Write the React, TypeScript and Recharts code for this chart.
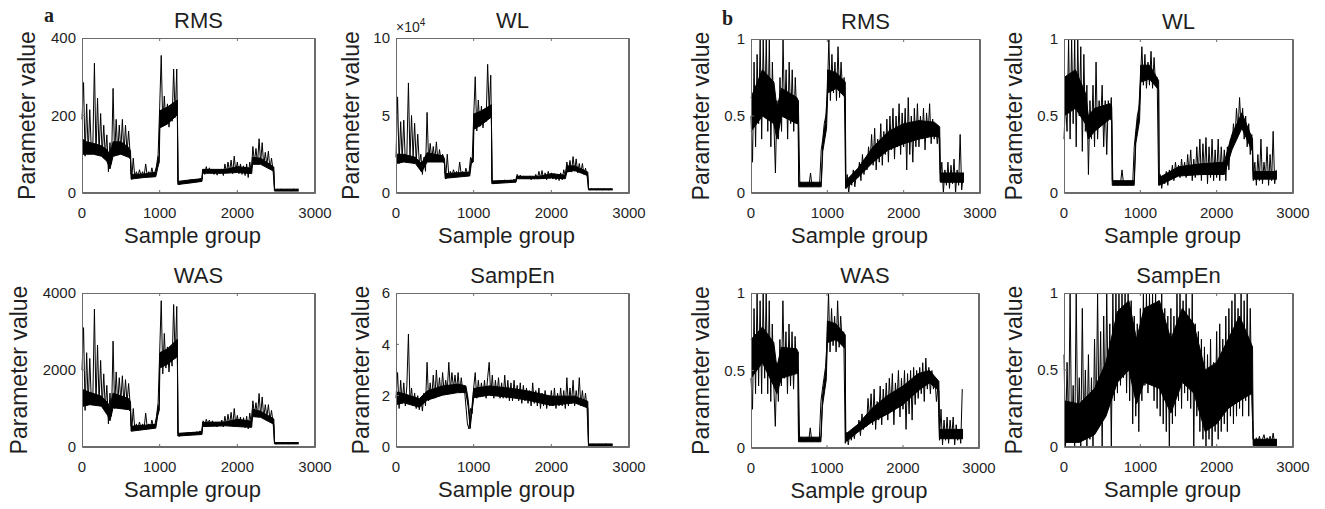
import React from 'react';
import { ComposedChart, Line, Area, XAxis, YAxis, Label } from 'recharts';

// sample group index of each stored point (one reading every 20 groups)
const STEP = 20;
const sampleGroup: number[] = Array.from({ length: 140 }, (_, i) => i * STEP);
const xTicks = [0, 1000, 2000, 3000];

// ---- panel a: raw feature values ----
const aRMS = [
  190, 285, 95, 230, 105, 215, 110, 125, 335, 100,
  245, 105, 205, 100, 175, 95, 150, 55, 130, 75,
  270, 95, 190, 100, 175, 110, 190, 100, 175, 105,
  160, 100, 35, 90, 40, 55, 42, 60, 45, 55,
  43, 75, 45, 55, 45, 65, 45, 55, 70, 100,
  220, 355, 175, 250, 180, 230, 170, 225, 185, 320,
  195, 320, 28, 22, 30, 24, 32, 25, 33, 26,
  35, 27, 34, 28, 36, 30, 38, 32, 60, 48,
  68, 52, 65, 50, 62, 48, 60, 46, 58, 50,
  62, 45, 75, 52, 80, 55, 85, 50, 95, 55,
  80, 50, 75, 48, 70, 45, 75, 40, 80, 55,
  120, 80, 115, 75, 140, 78, 130, 70, 105, 72,
  108, 62, 90, 58, 8, 6, 9, 6, 10, 7,
  9, 6, 10, 7, 9, 6, 10, 7, 9, 8,
];

// WL in units of 10^4
const aWL = [
  2.3, 6.2, 1.9, 4.6, 2.2, 4.7, 2.0, 2.5, 7.1, 2.2,
  5.0, 2.3, 4.5, 2.0, 3.8, 1.9, 2.5, 1.2, 2.3, 1.4,
  5.2, 2.0, 3.2, 2.2, 3.0, 2.1, 3.3, 2.0, 2.8, 2.1,
  2.5, 2.2, 0.9, 2.5, 1.1, 1.4, 1.1, 1.5, 1.2, 1.4,
  1.1, 2.0, 1.2, 1.4, 1.1, 1.6, 1.2, 1.3, 2.3, 2.0,
  4.9, 7.5, 4.0, 6.0, 4.3, 5.6, 4.2, 5.4, 4.6, 8.3,
  5.3, 7.6, 0.7, 0.6, 0.75, 0.65, 0.8, 0.65, 0.8, 0.7,
  0.85, 0.7, 0.8, 0.7, 0.85, 0.75, 0.9, 0.7, 1.2, 0.95,
  1.15, 0.95, 1.1, 0.9, 1.05, 0.9, 1.1, 0.85, 1.0, 0.9,
  1.2, 0.9, 1.4, 0.95, 1.45, 0.9, 1.3, 0.85, 1.4, 0.95,
  1.3, 0.9, 1.25, 0.85, 1.2, 0.8, 1.3, 0.85, 1.5, 1.1,
  2.0, 1.4, 2.1, 1.35, 2.35, 1.4, 2.2, 1.3, 1.9, 1.3,
  1.9, 1.2, 1.6, 1.1, 0.25, 0.2, 0.27, 0.22, 0.26, 0.2,
  0.27, 0.22, 0.26, 0.2, 0.27, 0.22, 0.25, 0.2, 0.27, 0.22,
];

const aWAS = [
  2000, 3100, 950, 2450, 1100, 2300, 1200, 1300, 3580, 1100,
  2650, 1150, 2250, 1050, 1900, 1000, 1600, 600, 1400, 800,
  2750, 1000, 1950, 1100, 1800, 1200, 1850, 1100, 1750, 1150,
  1650, 1100, 420, 1000, 450, 600, 480, 650, 500, 600,
  490, 880, 500, 600, 500, 700, 520, 600, 800, 1150,
  2450, 3800, 1900, 2950, 2050, 2600, 1950, 2500, 2100, 3700,
  2300, 3650, 300, 280, 330, 300, 350, 310, 370, 320,
  380, 330, 390, 340, 400, 350, 420, 360, 680, 560,
  720, 600, 700, 560, 680, 540, 650, 520, 640, 550,
  700, 520, 800, 560, 850, 580, 900, 540, 1000, 580,
  820, 540, 780, 520, 760, 500, 800, 470, 880, 600,
  1200, 850, 1150, 820, 1390, 800, 1300, 760, 1100, 780,
  1100, 700, 950, 640, 100, 80, 110, 90, 105, 85,
  110, 90, 115, 85, 105, 95, 110, 90, 100, 95,
];

const aSampEn = [
  1.9, 2.9, 1.5, 2.6, 1.7, 2.5, 1.6, 2.4, 4.4, 1.7,
  2.3, 1.6, 2.1, 1.5, 2.0, 1.45, 1.9, 1.4, 2.1, 1.6,
  3.3, 1.8, 2.5, 1.9, 2.8, 1.9, 3.0, 2.0, 2.7, 2.0,
  2.9, 2.1, 2.6, 2.2, 3.3, 2.2, 2.9, 2.3, 2.8, 2.2,
  2.9, 2.1, 2.7, 2.2, 2.3, 1.6, 0.9, 0.7, 1.5, 1.3,
  2.3, 2.9, 1.9, 2.6, 2.0, 2.5, 2.0, 2.6, 1.9, 2.7,
  3.3, 2.0, 2.8, 1.9, 2.6, 2.0, 2.7, 1.9, 2.5, 1.9,
  2.8, 1.9, 2.6, 1.8, 2.5, 1.8, 2.6, 1.9, 2.4, 1.8,
  2.5, 1.7, 2.4, 1.8, 2.3, 1.7, 2.2, 1.6, 2.5, 1.7,
  2.2, 1.6, 2.3, 1.5, 2.1, 1.6, 2.2, 1.5, 2.0, 1.6,
  2.2, 1.6, 2.3, 1.5, 2.1, 1.6, 2.3, 1.6, 2.2, 1.5,
  2.7, 1.6, 2.3, 1.7, 2.6, 1.6, 2.2, 1.7, 2.7, 1.6,
  2.2, 1.6, 2.1, 1.5, 0.05, 0.1, 0.04, 0.12, 0.06, 0.1,
  0.05, 0.12, 0.04, 0.1, 0.06, 0.13, 0.05, 0.1, 0.07, 0.11,
];

// ---- panel b: normalised feature values ----
const bRMS = [
  0.5, 0.2, 0.85, 0.3, 0.9, 0.45, 1.0, 0.35, 1.0, 0.5,
  1.0, 0.4, 1.0, 0.3, 0.85, 0.45, 0.13, 0.6, 0.35, 0.75,
  0.4, 1.0, 0.5, 0.8, 0.35, 0.85, 0.45, 0.8, 0.4, 0.75,
  0.5, 0.6, 0.05, 0.07, 0.04, 0.06, 0.04, 0.07, 0.05, 0.13,
  0.04, 0.07, 0.05, 0.06, 0.04, 0.07, 0.28, 0.35, 0.45, 0.5,
  0.65, 1.0, 0.6, 0.9, 0.65, 0.85, 0.6, 0.95, 0.62, 0.85,
  0.65, 0.75, 0.03, 0.12, 0.0, 0.1, 0.05, 0.15, 0.04, 0.12,
  0.1, 0.2, 0.08, 0.25, 0.12, 0.22, 0.15, 0.3, 0.2, 0.38,
  0.18, 0.42, 0.15, 0.35, 0.2, 0.45, 0.18, 0.4, 0.25, 0.48,
  0.2, 0.5, 0.28, 0.55, 0.22, 0.5, 0.3, 0.58, 0.25, 0.52,
  0.3, 0.55, 0.15, 0.62, 0.25, 0.5, 0.2, 0.55, 0.3, 0.58,
  0.3, 0.5, 0.35, 0.55, 0.28, 0.52, 0.38, 0.58, 0.32, 0.48,
  0.35, 0.45, 0.32, 0.42, 0.08, 0.2, 0.0, 0.15, 0.05, 0.2,
  0.03, 0.18, 0.06, 0.22, 0.0, 0.15, 0.05, 0.38, 0.02, 0.12,
];

const bWL = [
  0.35, 0.6, 0.4, 1.0, 0.35, 1.0, 0.45, 1.0, 0.3, 1.0,
  0.5, 0.95, 0.27, 0.9, 0.4, 0.7, 0.12, 0.6, 0.35, 0.7,
  0.3, 0.85, 0.35, 0.6, 0.45, 0.7, 0.3, 0.6, 0.25, 0.6,
  0.5, 0.62, 0.07, 0.06, 0.08, 0.05, 0.07, 0.06, 0.15, 0.06,
  0.07, 0.05, 0.08, 0.06, 0.07, 0.06, 0.3, 0.4, 0.5, 0.55,
  0.72, 0.95, 0.7, 0.9, 0.68, 0.85, 0.7, 0.92, 0.68, 0.88,
  0.7, 0.75, 0.05, 0.12, 0.03, 0.1, 0.06, 0.14, 0.05, 0.15,
  0.1, 0.18, 0.08, 0.2, 0.12, 0.18, 0.1, 0.22, 0.12, 0.2,
  0.1, 0.25, 0.12, 0.28, 0.08, 0.22, 0.1, 0.3, 0.12, 0.35,
  0.08, 0.32, 0.12, 0.36, 0.06, 0.3, 0.1, 0.35, 0.08, 0.28,
  0.1, 0.35, 0.08, 0.3, 0.12, 0.28, 0.08, 0.3, 0.15, 0.35,
  0.3, 0.45, 0.35, 0.55, 0.4, 0.62, 0.42, 0.55, 0.35, 0.5,
  0.3, 0.45, 0.25, 0.38, 0.08, 0.2, 0.05, 0.25, 0.08, 0.35,
  0.06, 0.2, 0.1, 0.3, 0.05, 0.25, 0.08, 0.4, 0.06, 0.15,
];

const bWAS = [
  0.45, 0.25, 0.9, 0.35, 1.0, 0.4, 0.95, 0.35, 1.0, 0.45,
  1.0, 0.35, 0.95, 0.3, 0.8, 0.4, 0.14, 0.55, 0.3, 0.7,
  0.4, 0.95, 0.45, 0.75, 0.35, 0.8, 0.4, 0.75, 0.38, 0.72,
  0.5, 0.62, 0.05, 0.07, 0.04, 0.06, 0.04, 0.07, 0.05, 0.13,
  0.04, 0.07, 0.05, 0.06, 0.04, 0.07, 0.3, 0.38, 0.45, 0.52,
  0.68, 1.0, 0.62, 0.9, 0.66, 0.85, 0.62, 0.95, 0.65, 0.85,
  0.68, 0.75, 0.03, 0.1, 0.02, 0.1, 0.05, 0.12, 0.06, 0.14,
  0.1, 0.18, 0.08, 0.22, 0.12, 0.2, 0.14, 0.32, 0.18, 0.35,
  0.15, 0.38, 0.12, 0.3, 0.18, 0.4, 0.15, 0.38, 0.22, 0.42,
  0.18, 0.45, 0.25, 0.48, 0.15, 0.42, 0.28, 0.5, 0.2, 0.45,
  0.25, 0.5, 0.12, 0.48, 0.22, 0.5, 0.18, 0.52, 0.28, 0.5,
  0.32, 0.52, 0.35, 0.55, 0.3, 0.58, 0.38, 0.52, 0.35, 0.5,
  0.38, 0.45, 0.3, 0.4, 0.05, 0.25, 0.02, 0.18, 0.05, 0.2,
  0.03, 0.18, 0.06, 0.2, 0.02, 0.15, 0.05, 0.12, 0.03, 0.38,
];

const bSampEn = [
  0.6, 0.0, 0.55, 0.1, 1.0, 0.05, 0.4, 0.0, 1.0, 0.1,
  0.45, 0.0, 0.9, 0.05, 0.5, 0.0, 0.6, 0.05, 0.45, 0.0,
  0.7, 0.1, 1.0, 0.15, 0.75, 0.0, 0.85, 0.2, 1.0, 0.25,
  0.8, 0.0, 1.0, 0.3, 1.0, 0.35, 1.0, 0.4, 1.0, 0.45,
  1.0, 0.35, 1.0, 0.3, 0.95, 0.15, 0.85, 0.2, 0.8, 0.1,
  0.9, 0.3, 1.0, 0.4, 1.0, 0.35, 1.0, 0.45, 1.0, 0.3,
  1.0, 0.25, 0.95, 0.2, 1.0, 0.15, 0.9, 0.1, 0.85, 0.0,
  0.9, 0.15, 0.85, 0.2, 1.0, 0.3, 1.0, 0.25, 0.95, 0.35,
  1.0, 0.3, 0.9, 0.25, 1.0, 0.0, 0.8, 0.2, 0.75, 0.1,
  0.7, 0.05, 0.65, 0.0, 0.6, 0.05, 0.7, 0.0, 0.55, 0.1,
  0.75, 0.05, 0.8, 0.1, 0.7, 0.15, 0.85, 0.1, 0.9, 0.2,
  0.95, 0.15, 1.0, 0.2, 0.9, 0.25, 1.0, 0.2, 0.95, 0.3,
  1.0, 0.2, 0.9, 0.3, 0.05, 0.02, 0.06, 0.03, 0.07, 0.02,
  0.05, 0.08, 0.03, 0.06, 0.04, 0.07, 0.03, 0.09, 0.02, 0.05,
];

// dense core of each trace: [sample group, low, high]
const aRMSBand = [
  [0, 100, 140], [60, 100, 132], [150, 100, 128], [250, 95, 122], [320, 82, 112], [360, 62, 98],
  [400, 95, 132], [500, 100, 132], [600, 92, 118], [625, 88, 108], [632, 36, 48], [800, 40, 49],
  [950, 42, 54], [975, 65, 82], [995, 80, 98], [1002, 168, 212], [1100, 178, 222], [1228, 202, 240],
  [1234, 22, 30], [1400, 26, 34], [1545, 30, 37], [1552, 51, 61], [1850, 51, 61], [2000, 53, 68],
  [2185, 50, 64], [2195, 74, 92], [2300, 74, 90], [2470, 56, 67], [2478, 5, 10], [2790, 5, 10],
];
const aWLBand = [
  [0, 1.9, 2.5], [100, 2.0, 2.5], [250, 1.9, 2.3], [330, 1.35, 1.9], [400, 2.0, 2.6], [600, 2.0, 2.4],
  [625, 1.9, 2.2], [632, 0.95, 1.25], [950, 1.1, 1.35], [970, 1.9, 2.2], [995, 2.0, 2.3], [1002, 4.1, 5.1],
  [1100, 4.4, 5.3], [1228, 4.9, 5.7], [1234, 0.6, 0.78], [1545, 0.7, 0.83], [1552, 0.92, 1.08],
  [1850, 0.92, 1.08], [2000, 0.97, 1.25], [2180, 0.92, 1.15], [2200, 1.35, 1.75], [2300, 1.45, 1.75],
  [2470, 1.12, 1.35], [2478, 0.2, 0.27], [2790, 0.2, 0.27],
];
const aWASBand = [
  [0, 1050, 1500], [100, 1100, 1420], [250, 1060, 1320], [330, 820, 1150], [360, 680, 1020],
  [400, 1020, 1400], [600, 970, 1260], [625, 920, 1170], [632, 410, 540], [950, 490, 590],
  [975, 810, 980], [995, 960, 1130], [1002, 2050, 2450], [1100, 2150, 2550], [1228, 2350, 2800],
  [1234, 285, 355], [1545, 325, 395], [1552, 530, 640], [1850, 550, 650], [2000, 530, 720],
  [2185, 510, 670], [2195, 790, 980], [2300, 770, 930], [2470, 590, 730], [2478, 80, 115], [2790, 80, 115],
];
const aSampEnBand = [
  [0, 1.65, 2.15], [100, 1.72, 2.08], [300, 1.55, 1.88], [400, 1.82, 2.18], [600, 2.02, 2.38],
  [800, 2.12, 2.45], [900, 2.12, 2.38], [930, 1.55, 1.85], [955, 0.72, 0.98], [975, 1.3, 1.48],
  [1000, 1.92, 2.28], [1200, 2.02, 2.38], [1500, 1.92, 2.28], [1700, 1.82, 2.18], [2000, 1.62, 1.98],
  [2300, 1.72, 1.98], [2470, 1.52, 1.78], [2478, 0.03, 0.12], [2790, 0.03, 0.12],
];
const bRMSBand = [
  [0, 0.4, 0.62], [150, 0.5, 0.8], [300, 0.45, 0.72], [340, 0.35, 0.55], [400, 0.5, 0.68],
  [600, 0.45, 0.62], [618, 0.45, 0.6], [625, 0.04, 0.07], [920, 0.04, 0.07], [940, 0.27, 0.33],
  [990, 0.42, 0.52], [1005, 0.65, 0.8], [1120, 0.68, 0.78], [1235, 0.62, 0.72], [1242, 0.03, 0.08],
  [1400, 0.1, 0.16], [1600, 0.2, 0.3], [1800, 0.28, 0.4], [2000, 0.32, 0.45], [2200, 0.35, 0.47],
  [2400, 0.37, 0.46], [2472, 0.36, 0.43], [2480, 0.07, 0.13], [2790, 0.07, 0.13],
];
const bWLBand = [
  [0, 0.5, 0.75], [150, 0.55, 0.8], [280, 0.45, 0.65], [320, 0.35, 0.5], [400, 0.4, 0.55],
  [600, 0.48, 0.58], [625, 0.47, 0.56], [632, 0.05, 0.08], [920, 0.05, 0.08], [940, 0.32, 0.38],
  [990, 0.47, 0.58], [1005, 0.72, 0.83], [1120, 0.74, 0.83], [1240, 0.67, 0.73], [1247, 0.05, 0.1],
  [1500, 0.11, 0.17], [1800, 0.12, 0.19], [2100, 0.12, 0.2], [2200, 0.28, 0.38], [2330, 0.42, 0.52],
  [2470, 0.27, 0.35], [2478, 0.09, 0.14], [2790, 0.09, 0.14],
];
const bWASBand = [
  [0, 0.45, 0.7], [150, 0.55, 0.78], [300, 0.4, 0.68], [340, 0.35, 0.52], [400, 0.45, 0.65],
  [600, 0.48, 0.64], [618, 0.48, 0.62], [625, 0.04, 0.07], [920, 0.04, 0.07], [940, 0.27, 0.33],
  [990, 0.44, 0.53], [1005, 0.68, 0.82], [1120, 0.7, 0.8], [1240, 0.64, 0.73], [1246, 0.04, 0.09],
  [1400, 0.1, 0.15], [1600, 0.17, 0.26], [1800, 0.22, 0.34], [2000, 0.28, 0.4], [2200, 0.37, 0.48],
  [2350, 0.42, 0.5], [2472, 0.37, 0.43], [2480, 0.06, 0.12], [2790, 0.06, 0.12],
];
const bSampEnBand = [
  [0, 0.03, 0.3], [200, 0.03, 0.28], [400, 0.08, 0.38], [550, 0.2, 0.55], [700, 0.42, 0.88],
  [850, 0.5, 0.95], [950, 0.28, 0.7], [1050, 0.42, 0.9], [1250, 0.38, 0.95], [1400, 0.22, 0.7],
  [1550, 0.42, 0.9], [1700, 0.35, 0.8], [1850, 0.1, 0.5], [2000, 0.15, 0.55], [2150, 0.25, 0.7],
  [2300, 0.3, 0.85], [2470, 0.35, 0.65], [2478, 0.01, 0.05], [2790, 0.01, 0.05],
];

const FONT = '"Liberation Sans", Arial, Helvetica, sans-serif';
const INK = '#1f1f1f';
const BOX = '#6b6b6b';
const PAD_L = 75;
const PAD_R = 30;
const PAD_T = 40;
const PAD_B = 60;

type PanelSpec = {
  title: string;
  left: number;
  top: number;
  width: number;
  height: number;
  yMax: number;
  yTicks: number[];
  values: number[];
  band: number[][];
  labelGap: number;
  exponent?: boolean;
};

const panels: PanelSpec[] = [
  { title: 'RMS', left: 82, top: 38, width: 233, height: 155, yMax: 400, yTicks: [0, 200, 400], values: aRMS, band: aRMSBand, labelGap: 55 },
  { title: 'WL', left: 396, top: 38, width: 233, height: 155, yMax: 10, yTicks: [0, 5, 10], values: aWL, band: aWLBand, labelGap: 45, exponent: true },
  { title: 'WAS', left: 82, top: 293, width: 233, height: 154, yMax: 4000, yTicks: [0, 2000, 4000], values: aWAS, band: aWASBand, labelGap: 63 },
  { title: 'SampEn', left: 396, top: 293, width: 233, height: 154, yMax: 6, yTicks: [0, 2, 4, 6], values: aSampEn, band: aSampEnBand, labelGap: 35 },
  { title: 'RMS', left: 751, top: 39, width: 229, height: 154, yMax: 1, yTicks: [0, 0.5, 1], values: bRMS, band: bRMSBand, labelGap: 50 },
  { title: 'WL', left: 1064, top: 39, width: 229, height: 154, yMax: 1, yTicks: [0, 0.5, 1], values: bWL, band: bWLBand, labelGap: 50 },
  { title: 'WAS', left: 751, top: 293, width: 228, height: 155, yMax: 1, yTicks: [0, 0.5, 1], values: bWAS, band: bWASBand, labelGap: 50 },
  { title: 'SampEn', left: 1064, top: 293, width: 229, height: 154, yMax: 1, yTicks: [0, 0.5, 1], values: bSampEn, band: bSampEnBand, labelGap: 50 },
];

// ticks point into the box, MATLAB style
const BottomTick = (props: any) => {
  const { x, y, payload } = props;
  const inner = payload.value > 0 && payload.value < 3000;
  return (
    <g>
      {inner && <path d={`M${x},${y}V${y - 3}`} stroke={BOX} strokeWidth={1} fill="none" />}
      <text x={x} y={y + 25} textAnchor="middle" fontSize={15} fill={INK} fontFamily={FONT}>
        {payload.value}
      </text>
    </g>
  );
};

const TopTick = (props: any) => {
  const { x, y, payload } = props;
  if (payload.value <= 0 || payload.value >= 3000) return <g />;
  return <path d={`M${x},${y}V${y + 3}`} stroke={BOX} strokeWidth={1} fill="none" />;
};

const makeLeftTick = (yMax: number) => (props: any) => {
  const { x, y, payload } = props;
  const inner = payload.value > 0 && payload.value < yMax;
  return (
    <g>
      {inner && <path d={`M${x},${y}H${x + 3}`} stroke={BOX} strokeWidth={1} fill="none" />}
      <text x={x - 6} y={y} dy="0.36em" textAnchor="end" fontSize={15} fill={INK} fontFamily={FONT}>
        {payload.value}
      </text>
    </g>
  );
};

const makeRightTick = (yMax: number) => (props: any) => {
  const { x, y, payload } = props;
  if (payload.value <= 0 || payload.value >= yMax) return <g />;
  return <path d={`M${x},${y}H${x - 3}`} stroke={BOX} strokeWidth={1} fill="none" />;
};

function Panel({ spec }: { spec: PanelSpec }) {
  const lineData = sampleGroup.map((x, i) => ({ x, v: spec.values[i] }));
  const bandData = spec.band.map(([x, lo, hi]) => ({ x, core: [lo, hi] }));
  const W = PAD_L + spec.width + PAD_R;
  const H = PAD_T + spec.height + PAD_B;
  const cx = PAD_L + spec.width / 2;
  const cy = PAD_T + spec.height / 2;
  const LeftTick = makeLeftTick(spec.yMax);
  const RightTick = makeRightTick(spec.yMax);
  const ylx = PAD_L - spec.labelGap;
  const x0 = PAD_L + 0.5;
  const y0 = PAD_T + 0.5;
  const framePath = `M${x0},${y0}H${x0 + spec.width}V${y0 + spec.height}H${x0}Z`;

  return (
    <div style={{ position: 'absolute', left: spec.left - PAD_L, top: spec.top - PAD_T }}>
      <ComposedChart width={W} height={H} data={lineData} margin={{ top: 0, right: 0, bottom: 0, left: 0 }}>
        <XAxis
          xAxisId="bottom"
          dataKey="x"
          type="number"
          domain={[0, 3000]}
          ticks={xTicks}
          interval={0}
          height={PAD_B}
          axisLine={false}
          tickLine={false}
          tickSize={0}
          tickMargin={0}
          tick={<BottomTick />}
        >
          <Label
            content={() => (
              <text x={cx - 6} y={PAD_T + spec.height + 50} textAnchor="middle" fontSize={22} fill={INK} fontFamily={FONT}>
                Sample group
              </text>
            )}
          />
        </XAxis>
        <XAxis
          xAxisId="top"
          orientation="top"
          dataKey="x"
          type="number"
          domain={[0, 3000]}
          ticks={xTicks}
          interval={0}
          height={PAD_T}
          axisLine={false}
          tickLine={false}
          tickSize={0}
          tickMargin={0}
          tick={<TopTick />}
        >
          <Label
            content={() => (
              <g>
                <text x={cx} y={PAD_T - 10} textAnchor="middle" fontSize={22} fill={INK} fontFamily={FONT}>
                  {spec.title}
                </text>
                {spec.exponent && (
                  <text x={PAD_L} y={PAD_T - 6} fontSize={14} fill={INK} fontFamily={FONT}>
                    ×10<tspan dy={-6} fontSize={10}>4</tspan>
                  </text>
                )}
              </g>
            )}
          />
        </XAxis>
        <YAxis
          yAxisId="left"
          type="number"
          domain={[0, spec.yMax]}
          ticks={spec.yTicks}
          interval={0}
          width={PAD_L}
          axisLine={false}
          tickLine={false}
          tickSize={0}
          tickMargin={0}
          tick={<LeftTick />}
        >
          <Label
            content={() => (
              <g>
                <path d={framePath} fill="none" stroke={BOX} strokeWidth={1} />
                <text
                  x={ylx}
                  y={cy}
                  transform={`rotate(-90 ${ylx} ${cy})`}
                  textAnchor="middle"
                  dominantBaseline="central"
                  fontSize={23}
                  fill={INK}
                  fontFamily={FONT}
                >
                  Parameter value
                </text>
              </g>
            )}
          />
        </YAxis>
        <YAxis
          yAxisId="right"
          orientation="right"
          type="number"
          domain={[0, spec.yMax]}
          ticks={spec.yTicks}
          interval={0}
          width={PAD_R}
          axisLine={false}
          tickLine={false}
          tickSize={0}
          tickMargin={0}
          tick={<RightTick />}
        />
        <Area
          xAxisId="bottom"
          yAxisId="left"
          data={bandData}
          type="linear"
          dataKey="core"
          stroke="#000"
          strokeWidth={1}
          fill="#000"
          fillOpacity={1}
          dot={false}
          activeDot={false}
          isAnimationActive={false}
        />
        <Line
          xAxisId="bottom"
          yAxisId="left"
          type="linear"
          dataKey="v"
          stroke="#000"
          strokeWidth={1}
          dot={false}
          activeDot={false}
          isAnimationActive={false}
        />
      </ComposedChart>
      {/* frame drawn over the plot area as well, in case the svg layer hides it */}
      <div
        style={{
          position: 'absolute',
          left: PAD_L,
          top: PAD_T,
          width: spec.width,
          height: spec.height,
          boxSizing: 'border-box',
          border: `1px solid ${BOX}`,
          pointerEvents: 'none',
        }}
      />
    </div>
  );
}

export default function App() {
  return (
    <div style={{ position: 'absolute', left: 0, top: 0, width: 1325, height: 509, background: '#fff', fontFamily: FONT }}>
      <span style={{ position: 'absolute', left: 44, top: 5, fontFamily: '"Liberation Serif", "Times New Roman", serif', fontWeight: 'bold', fontSize: 20, lineHeight: '20px', color: INK }}>
        a
      </span>
      <span style={{ position: 'absolute', left: 722, top: 8, fontFamily: '"Liberation Serif", "Times New Roman", serif', fontWeight: 'bold', fontSize: 20, lineHeight: '20px', color: INK }}>
        b
      </span>
      {panels.map((p, i) => (
        <Panel key={i} spec={p} />
      ))}
    </div>
  );
}
